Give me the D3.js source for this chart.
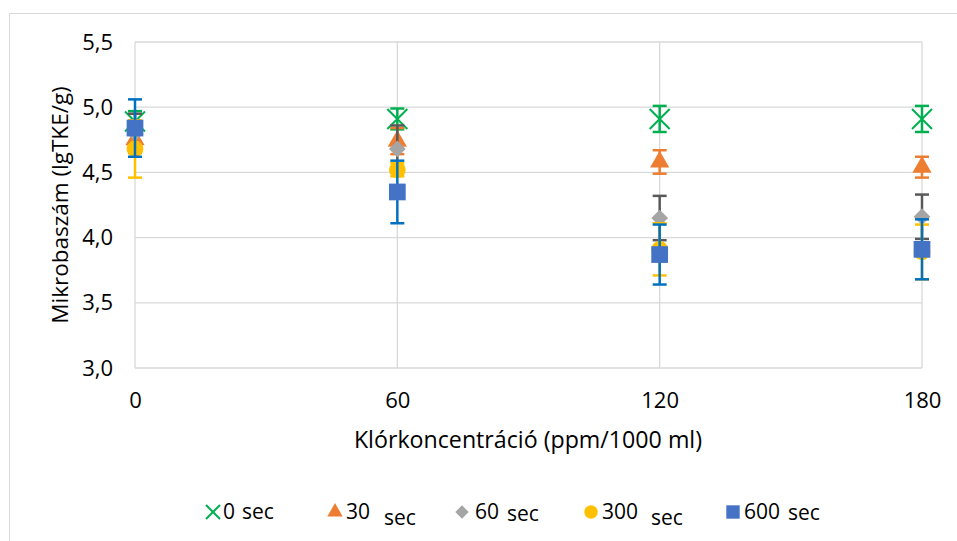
<!DOCTYPE html>
<html>
<head>
  <meta charset="utf-8">
  <title>Mikrobaszám</title>
  <script src="https://d3js.org/d3.v7.min.js"></script>
  <style>
    body { margin: 0; background: #fff; }
    text { font-family: "Open Sans", "Lato", sans-serif; fill: #000; }
  </style>
</head>
<body>
  <div id="chart"></div>

  <script>
    // Data
    const concentrations = [0, 60, 120, 180];
    const seriesNames = ['0 sec', '30 sec', '60 sec', '300 sec', '600 sec'];
    const sec0 = [4.89, 4.91, 4.91, 4.91];
    const sec30 = [4.75, 4.74, 4.58, 4.54];
    const sec60 = [4.80, 4.68, 4.15, 4.16];
    const sec300 = [4.68, 4.52, 3.91, 3.89];
    const sec600 = [4.84, 4.35, 3.87, 3.91];
    const err0 = [0.08, 0.08, 0.1, 0.1];
    const err30 = [0.08, 0.1, 0.09, 0.08];
    const err60 = [0.15, 0.18, 0.17, 0.17];
    const err300 = [0.22, 0.05, 0.2, 0.21];
    const err600 = [0.22, 0.24, 0.23, 0.23];
    const yTicks = [3.0, 3.5, 4.0, 4.5, 5.0, 5.5];

    const width = 957;
    const height = 541;

    const svg = d3.select('#chart')
      .append('svg')
      .attr('width', width)
      .attr('height', height);

    // outer chart border
    svg.append('rect')
      .attr('x', 9.5).attr('y', 13.5)
      .attr('width', 960).attr('height', 540)
      .attr('fill', 'none')
      .attr('stroke', '#d9d9d9');

    const x = d3.scaleLinear().domain([0, 180]).range([135, 922]);
    const y = d3.scaleLinear().domain([3, 5.5]).range([368, 42]);

    // gridlines
    svg.append('g')
      .selectAll('line')
      .data(yTicks)
      .enter().append('line')
      .attr('x1', x(0)).attr('x2', x(180))
      .attr('y1', d => y(d)).attr('y2', d => y(d))
      .attr('stroke', '#d9d9d9').attr('stroke-width', 1.3);

    svg.append('g')
      .selectAll('line')
      .data(concentrations)
      .enter().append('line')
      .attr('x1', d => x(d)).attr('x2', d => x(d))
      .attr('y1', y(3)).attr('y2', y(5.5))
      .attr('stroke', '#d9d9d9').attr('stroke-width', 1.3);

    // axes (labels only)
    const fmt = d => d3.format('.1f')(d).replace('.', ',');
    const yAxis = svg.append('g')
      .attr('transform', `translate(${x(0) - 12},0)`)
      .call(d3.axisLeft(y).tickValues(yTicks).tickFormat(fmt).tickSize(0).tickPadding(10));
    const xAxis = svg.append('g')
      .attr('transform', `translate(0,${y(3) + 14})`)
      .call(d3.axisBottom(x).tickValues(concentrations).tickFormat(d3.format('d')).tickSize(0).tickPadding(10));
    [yAxis, xAxis].forEach(a => {
      a.select('.domain').remove();
      a.selectAll('text').attr('font-size', 22).attr('font-family', '"Open Sans", sans-serif').attr('fill', '#000');
    });

    // axis titles
    svg.append('text')
      .attr('x', 528).attr('y', 448)
      .attr('text-anchor', 'middle')
      .attr('font-size', 23.2)
      .text('Klórkoncentráció (ppm/1000 ml)');

    svg.append('text')
      .attr('transform', 'translate(68,205) rotate(-90)')
      .attr('text-anchor', 'middle')
      .attr('font-size', 22.5)
      .text('Mikrobaszám (lgTKE/g)');

    // series
    const series = [
      { name: seriesNames[0], values: sec0, errors: err0, fill: '#00b050', errColor: '#00b050', shape: 'x' },
      { name: seriesNames[1], values: sec30, errors: err30, fill: '#ed7d31', errColor: '#ed7d31', shape: 'triangle' },
      { name: seriesNames[2], values: sec60, errors: err60, fill: '#a5a5a5', errColor: '#595959', shape: 'diamond' },
      { name: seriesNames[3], values: sec300, errors: err300, fill: '#ffc000', errColor: '#ffc000', shape: 'circle' },
      { name: seriesNames[4], values: sec600, errors: err600, fill: '#4472c4', errColor: '#0070c0', shape: 'square' }
    ];

    const symbols = {
      triangle: d3.symbol().type(d3.symbolTriangle).size(160),
      diamond: d3.symbol().type(d3.symbolSquare).size(140),
      circle: d3.symbol().type(d3.symbolCircle).size(220),
      square: d3.symbol().type(d3.symbolSquare).size(280)
    };

    function drawMarker(g, shape, fill, cx, cy, scale) {
      const s = scale || 1;
      if (shape === 'x') {
        const r = 10 * s;
        g.append('path')
          .attr('d', `M${cx - r},${cy - r}L${cx + r},${cy + r}M${cx - r},${cy + r}L${cx + r},${cy - r}`)
          .attr('stroke', fill).attr('stroke-width', 2).attr('fill', 'none');
      } else {
        g.append('path')
          .attr('d', symbols[shape]())
          .attr('transform', `translate(${cx},${cy}) scale(${s})` + (shape === 'diamond' ? ' rotate(45)' : ''))
          .attr('fill', fill);
      }
    }

    series.forEach(s => {
      const g = svg.append('g');
      concentrations.forEach((c, i) => {
        const cx = x(c);
        const top = y(s.values[i] + s.errors[i]);
        const bot = y(s.values[i] - s.errors[i]);
        g.append('line')
          .attr('x1', cx).attr('x2', cx).attr('y1', top).attr('y2', bot)
          .attr('stroke', s.errColor).attr('stroke-width', 2.5);
        [top, bot].forEach(yy => {
          g.append('line')
            .attr('x1', cx - 7).attr('x2', cx + 7).attr('y1', yy).attr('y2', yy)
            .attr('stroke', s.errColor).attr('stroke-width', 2.5);
        });
        drawMarker(g, s.shape, s.fill, cx, y(s.values[i]));
      });
    });

    // legend
    const legendItems = [
      { mx: 213, tx: 223, first: '0', second: 'sec', gap: 7, drop: 0 },
      { mx: 335, tx: 346, first: '30', second: 'sec', gap: 14, drop: 6 },
      { mx: 462, tx: 475, first: '60', second: 'sec', gap: 8, drop: 2 },
      { mx: 591, tx: 602, first: '300', second: 'sec', gap: 13, drop: 6 },
      { mx: 733, tx: 744, first: '600', second: 'sec', gap: 8, drop: 1 }
    ];
    const legend = svg.append('g');
    series.forEach((s, i) => {
      const it = legendItems[i];
      drawMarker(legend, s.shape, s.fill, it.mx, 512, s.shape === 'x' ? 0.7 : 0.8);
      const t = legend.append('text')
        .attr('x', it.tx).attr('y', 519)
        .attr('font-size', 21);
      t.append('tspan').text(it.first);
      t.append('tspan').attr('dx', it.gap).attr('dy', it.drop).text(it.second);
    });
  </script>
</body>
</html>
